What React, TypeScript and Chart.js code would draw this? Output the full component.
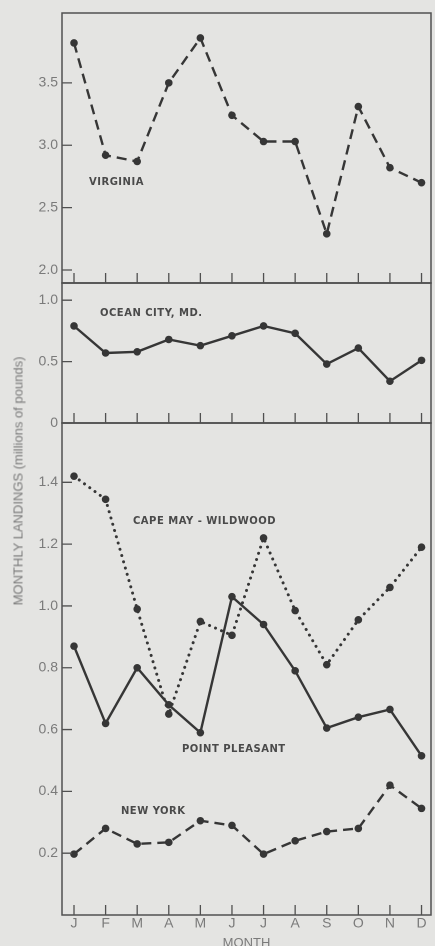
import React, { useEffect, useRef } from "react";
import { Chart, registerables } from "chart.js";

Chart.register(...registerables);

// ---- data ----
const months = ["J", "F", "M", "A", "M", "J", "J", "A", "S", "O", "N", "D"];
const virginia = [3.82, 2.92, 2.87, 3.5, 3.86, 3.24, 3.03, 3.03, 2.29, 3.31, 2.82, 2.7];
const oceanCity = [0.79, 0.57, 0.58, 0.68, 0.63, 0.71, 0.79, 0.73, 0.48, 0.61, 0.34, 0.51];
const capeMay = [1.42, 1.345, 0.99, 0.65, 0.95, 0.905, 1.22, 0.985, 0.81, 0.955, 1.06, 1.19];
const pointPleasant = [0.87, 0.62, 0.8, 0.68, 0.59, 1.03, 0.94, 0.79, 0.605, 0.64, 0.665, 0.515];
const newYork = [0.197, 0.28, 0.23, 0.235, 0.305, 0.29, 0.197, 0.24, 0.27, 0.28, 0.42, 0.345];
const virginiaTicks = [2.0, 2.5, 3.0, 3.5];
const oceanTicks = [0, 0.5, 1.0];
const lowerTicks = [0.2, 0.4, 0.6, 0.8, 1.0, 1.2, 1.4];

const INK = "#363636";
const GRAY = "#7a7a7a";
const BG = "#e4e4e2";
const FONT = "'Liberation Sans', Arial, sans-serif";

const toPts = (vals: number[]) => vals.map((v, i) => ({ x: i, y: v }));

const framePlugin = {
  id: "frame",
  afterDraw(chart: any) {
    const { ctx, chartArea: a, scales } = chart;
    ctx.save();
    ctx.strokeStyle = "#505050";
    ctx.lineWidth = 1.5;
    ctx.strokeRect(a.left, a.top, a.right - a.left, a.bottom - a.top);
    ctx.lineWidth = 1.3;
    const x = scales.x;
    ctx.beginPath();
    for (let i = 0; i < months.length; i++) {
      const px = x.getPixelForValue(i);
      ctx.moveTo(px, a.bottom);
      ctx.lineTo(px, a.bottom - 10);
    }
    const y = scales.y;
    y.ticks.forEach((t: any) => {
      const py = y.getPixelForValue(t.value);
      ctx.moveTo(a.left, py);
      ctx.lineTo(a.left + 10, py);
    });
    ctx.stroke();
    ctx.restore();
  },
};

function lineDs(vals: number[], style: "solid" | "dashed" | "dotted") {
  return {
    data: toPts(vals),
    borderColor: INK,
    borderWidth: style === "dotted" ? 3 : 2.4,
    borderDash: style === "dashed" ? [10, 6] : style === "dotted" ? [0.01, 6.5] : [],
    borderCapStyle: style === "dotted" ? "round" : "butt",
    pointRadius: 3.8,
    pointBackgroundColor: INK,
    pointBorderWidth: 0,
    tension: 0,
    fill: false,
  };
}

function makeConfig(
  datasets: any[],
  yMin: number,
  yMax: number,
  yTicks: number[],
  fmt: (v: number) => string,
  padding: any,
  showX: boolean
) {
  return {
    type: "line",
    data: { datasets },
    plugins: [framePlugin],
    options: {
      animation: false,
      responsive: false,
      devicePixelRatio: 2,
      layout: { padding },
      plugins: { legend: { display: false }, tooltip: { enabled: false } },
      scales: {
        x: {
          type: "linear",
          min: -0.38,
          max: 11.3,
          display: showX,
          afterBuildTicks: (s: any) => {
            s.ticks = months.map((_, i) => ({ value: i }));
          },
          afterFit: (s: any) => {
            if (showX) s.height = 31;
          },
          grid: { display: false, drawTicks: false },
          border: { display: false },
          ticks: {
            autoSkip: false,
            maxRotation: 0,
            padding: 0,
            color: GRAY,
            font: { family: FONT, size: 14 },
            callback: (v: any) => months[v] ?? "",
          },
          title: {
            display: showX,
            text: "MONTH",
            color: GRAY,
            font: { family: FONT, size: 13 },
            padding: { top: 0, bottom: -5 },
          },
        },
        y: {
          type: "linear",
          min: yMin,
          max: yMax,
          afterBuildTicks: (s: any) => {
            s.ticks = yTicks.map((v) => ({ value: v }));
          },
          afterFit: (s: any) => {
            s.width = 62;
          },
          grid: { display: false, drawTicks: false },
          border: { display: false },
          ticks: {
            autoSkip: false,
            padding: 4,
            color: GRAY,
            font: { family: FONT, size: 14 },
            callback: (v: any) => fmt(Number(v)),
          },
        },
      },
    },
  };
}

function Panel({ top, height, config }: { top: number; height: number; config: any }) {
  const ref = useRef<HTMLCanvasElement | null>(null);
  useEffect(() => {
    if (!ref.current) return;
    const chart = new Chart(ref.current, config);
    return () => chart.destroy();
  }, []);
  return (
    <canvas
      ref={ref}
      width={435}
      height={height}
      style={{ position: "absolute", left: 0, top, width: 435, height }}
    />
  );
}

const labelStyle: React.CSSProperties = {
  position: "absolute",
  fontFamily: "'DejaVu Sans', sans-serif",
  fontWeight: "bold",
  fontSize: 10,
  lineHeight: "12px",
  letterSpacing: "0.5px",
  color: "#4a4a4a",
  whiteSpace: "nowrap",
};

export default function App() {
  const f1 = (v: number) => v.toFixed(1);
  const f0 = (v: number) => (v === 0 ? "0" : v.toFixed(1));
  const c1 = makeConfig([lineDs(virginia, "dashed")], 1.896, 4.06, virginiaTicks, f1,
    { top: 13, right: 4, bottom: 17, left: 0 }, false);
  const c2 = makeConfig([lineDs(oceanCity, "solid")], 0, 1.14, oceanTicks, f0,
    { top: 20, right: 4, bottom: 20, left: 0 }, false);
  const c3 = makeConfig(
    [lineDs(capeMay, "dotted"), lineDs(pointPleasant, "solid"), lineDs(newYork, "dashed")],
    0, 1.592, lowerTicks, f1, { top: 20, right: 4, bottom: 0, left: 0 }, true);

  return (
    <div style={{ position: "absolute", left: 0, top: 0, width: 435, height: 946, background: BG, overflow: "hidden" }}>
      <Panel top={0} height={300} config={c1} />
      <Panel top={263} height={180} config={c2} />
      <Panel top={403} height={543} config={c3} />
      <div style={{ ...labelStyle, left: 89, top: 176 }}>VIRGINIA</div>
      <div style={{ ...labelStyle, left: 100, top: 307 }}>OCEAN CITY, MD.</div>
      <div style={{ ...labelStyle, left: 133, top: 515 }}>CAPE MAY - WILDWOOD</div>
      <div style={{ ...labelStyle, left: 182, top: 743 }}>POINT PLEASANT</div>
      <div style={{ ...labelStyle, left: 121, top: 805 }}>NEW YORK</div>
      <div
        style={{
          position: "absolute",
          left: 18,
          top: 481,
          transform: "translate(-50%, -50%) rotate(-90deg)",
          fontFamily: FONT,
          fontSize: 13,
          color: GRAY,
          whiteSpace: "nowrap",
        }}
      >
        MONTHLY LANDINGS (millions of pounds)
      </div>
    </div>
  );
}
